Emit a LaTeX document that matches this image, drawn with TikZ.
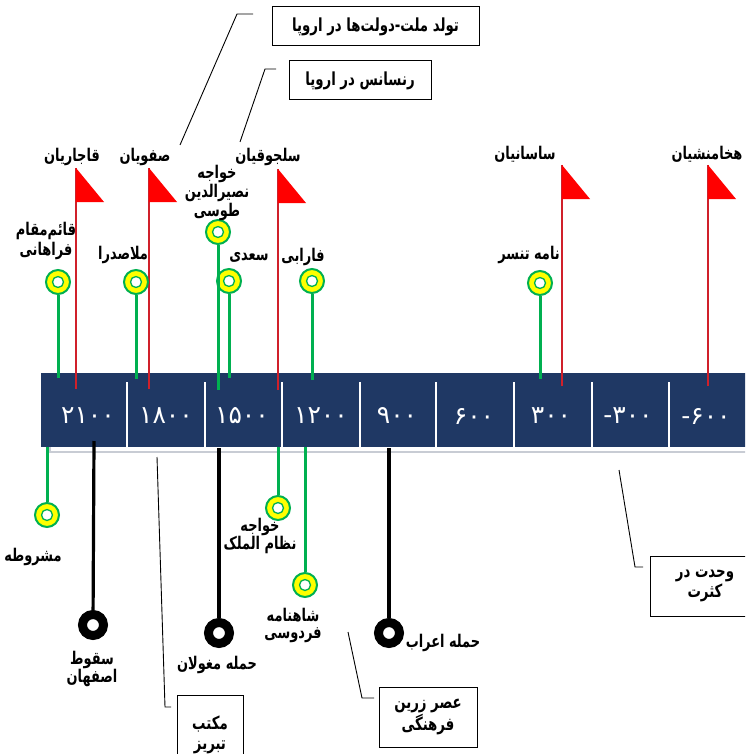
\documentclass[tikz,border=0pt]{standalone}
\usepackage{fontspec}
\newfontfamily\fa[Script=Arabic, FakeStretch=0.74]{DejaVu Sans}
\newfontfamily\fanum[Script=Arabic]{DejaVu Sans}
\TeXXeTstate=1
\usetikzlibrary{positioning}
\definecolor{bandblue}{HTML}{1F3864}
\definecolor{pingreen}{HTML}{00B050}
\definecolor{pinyellow}{HTML}{FFFF00}
\definecolor{polered}{HTML}{D0202A}
\definecolor{shadowgray}{HTML}{C8CCD4}
\newcommand{\rl}[1]{\beginR#1\endR}

\begin{document}
\begin{tikzpicture}[x=1pt,y=-1pt,semithick]
\tikzstyle{namelbl} = [font=\fa\bfseries\fontsize{17.5}{17}\selectfont, align=center, inner sep=0pt]
\tikzstyle{yearlbl} = [font=\fanum\fontsize{25}{28}\selectfont, text=white, inner sep=0pt]
\tikzstyle{greenring} = [circle, draw=pingreen, line width=2pt, fill=pinyellow, minimum size=24pt, inner sep=0pt,
  path picture={\draw[pingreen, line width=1.3pt, fill=white] (path picture bounding box.center) circle (5.5pt);}]
\tikzstyle{blackring} = [circle, draw=black, line width=9pt, fill=white, minimum size=21pt, inner sep=0pt]
\tikzstyle{stemline} = [pingreen, line width=3pt]
\tikzstyle{blackline} = [black, line width=3.2pt]
\tikzstyle{poleline} = [polered, line width=2.2pt]
\tikzstyle{flagtri} = [fill=red]
\tikzstyle{notebox} = [draw, line width=1pt, font=\fa\bfseries\fontsize{18}{19.5}\selectfont, align=center, inner sep=0pt]
\tikzstyle{leadline} = [black, line width=0.9pt]

\useasboundingbox (0,0) rectangle (745,754);
\clip (0,0) rectangle (745,754);

% time band
\fill[bandblue] (41,373) rectangle (760,447);
\draw[shadowgray, line width=1.5pt] (50,447) -- (50,452) -- (760,452);
\foreach \x in {127,205,282,360,436,514,592,669}
  \draw[white, line width=2pt] (\x,382) -- (\x,447);

\node[yearlbl] (y2100) at (88,416) {۲۱۰۰};
\node[yearlbl] (y1800) at (166,416) {۱۸۰۰};
\node[yearlbl] (y1500) at (242,416) {۱۵۰۰};
\node[yearlbl] (y1200) at (321,416) {۱۲۰۰};
\node[yearlbl] (y900) at (397,416) {۹۰۰};
\node[yearlbl] (y600) at (474,416) {۶۰۰};
\node[yearlbl] (y300) at (551,416) {۳۰۰};
\node[yearlbl] (ym300) at (628,416) {-\kern0pt۳۰۰};
\node[yearlbl] (ym600) at (706,416) {-\kern0pt۶۰۰};

% dynasties
\coordinate (qajarB) at (76,389);
\coordinate (qajarT) at (76,168);
\coordinate (safaviB) at (149,389);
\coordinate (safaviT) at (149,168);
\coordinate (saljuqB) at (278,390);
\coordinate (saljuqT) at (278,169);
\coordinate (sasaniB) at (562,386);
\coordinate (sasaniT) at (562,165);
\coordinate (hakhaB) at (708,386);
\coordinate (hakhaT) at (708,165);

\draw[poleline] (qajarB) -- (qajarT);
\draw[poleline] (safaviB) -- (safaviT);
\draw[poleline] (saljuqB) -- (saljuqT);
\draw[poleline] (sasaniB) -- (sasaniT);
\draw[poleline] (hakhaB) -- (hakhaT);
\fill[flagtri] (qajarT) -- ++(0,34) -- ++(28,0) -- cycle;
\fill[flagtri] (safaviT) -- ++(0,34) -- ++(28,0) -- cycle;
\fill[flagtri] (saljuqT) -- ++(0,34) -- ++(28,0) -- cycle;
\fill[flagtri] (sasaniT) -- ++(0,34) -- ++(28,0) -- cycle;
\fill[flagtri] (hakhaT) -- ++(0,34) -- ++(28,0) -- cycle;

\node[namelbl] (qajar) at (72,157) {\rl{قاجاریان}};
\node[namelbl] (safavi) at (145,157) {\rl{صفویان}};
\node[namelbl] (saljuq) at (268,157) {\rl{سلجوقیان}};
\node[namelbl] (sasani) at (525,154) {\rl{ساسانیان}};
\node[namelbl] (hakha) at (707,154) {\rl{هخامنشیان}};

% people and works above the band
\node[greenring] (qaem) at (58,282) {};
\node[greenring] (molla) at (136,282) {};
\node[greenring] (nasir) at (218,232) {};
\node[greenring] (saadi) at (229,281) {};
\node[greenring] (farabi) at (312,281) {};
\node[greenring] (tansar) at (540,283) {};

\coordinate (qaemB) at (58,378);
\coordinate (mollaB) at (136,379);
\coordinate (nasirB) at (218,390);
\coordinate (saadiB) at (229,378);
\coordinate (farabiB) at (312,380);
\coordinate (tansarB) at (540,379);

\draw[stemline] (qaemB) -- (qaem);
\draw[stemline] (mollaB) -- (molla);
\draw[stemline] (nasirB) -- (nasir);
\draw[stemline] (saadiB) -- (saadi);
\draw[stemline] (farabiB) -- (farabi);
\draw[stemline] (tansarB) -- (tansar);

\node[namelbl] (qaemL) at (46,241) {\rl{قائم‌مقام}\\[1.5pt]\rl{فراهانی}};
\node[namelbl] (mollaL) at (123,255) {\rl{ملاصدرا}};
\node[namelbl] (nasirL) at (217,193) {\rl{خواجه}\\\rl{نصیرالدین}\\\rl{طوسی}};
\node[namelbl] (saadiL) at (249,257) {\rl{سعدی}};
\node[namelbl] (farabiL) at (303,257) {\rl{فارابی}};
\node[namelbl] (tansarL) at (529,255) {\rl{نامه تنسر}};

% below the band
\node[greenring] (mashrute) at (47,515) {};
\node[greenring] (nezam) at (278,508) {};
\node[greenring] (ferdowsi) at (305,585) {};
\coordinate (mashruteT) at (47,447);
\coordinate (nezamT) at (278,447);
\coordinate (ferdowsiT) at (305,447);
\draw[stemline] (mashruteT) -- (mashrute);
\draw[stemline] (nezamT) -- (nezam);
\draw[stemline] (ferdowsiT) -- (ferdowsi);

\node[namelbl] (mashruteL) at (33,557) {\rl{مشروطه}};
\node[namelbl] (nezamL) at (260,536) {\rl{خواجه}\\\rl{نظام الملک}};
\node[namelbl] (ferdowsiL) at (293,625) {\rl{شاهنامه}\\\rl{فردوسی}};

\node[blackring] (esfahan) at (93,625) {};
\node[blackring] (mongol) at (219,633) {};
\node[blackring] (arab) at (389,633) {};
\coordinate (esfahanT) at (94,441);
\coordinate (mongolT) at (219,448);
\coordinate (arabT) at (389,448);
\draw[blackline] (esfahanT) -- (esfahan);
\draw[blackline] (mongolT) -- (mongol);
\draw[blackline] (arabT) -- (arab);

\node[namelbl] (esfahanL) at (92,669) {\rl{سقوط}\\\rl{اصفهان}};
\node[namelbl] (mongolL) at (217,665) {\rl{حمله مغولان}};
\node[namelbl] (arabL) at (443,643) {\rl{حمله اعراب}};

% notes
\node[notebox, minimum width=207pt, minimum height=39pt] (nation) at (375.5,26.5) {\rl{تولد ملت-دولت‌ها در اروپا}};
\node[notebox, minimum width=142pt, minimum height=39pt] (renaissance) at (360,80.5) {\rl{رنسانس در اروپا}};
\node[notebox, minimum width=66pt, minimum height=80pt] (tabriz) at (210,735) {\rl{مکتب}\\\rl{تبریز}};
\node[notebox, minimum width=98pt, minimum height=60pt] (golden) at (428,717) {\rl{عصر زرین}\\\rl{فرهنگی}};
\node[notebox, minimum width=110pt, minimum height=60pt] (vahdat) at (705,586) {\rl{وحدت در}\\\rl{کثرت}};

\coordinate (nationA) at (180,145);
\coordinate (nationB) at (237,14);
\coordinate (nationC) at (253,14);
\coordinate (renA) at (240,142);
\coordinate (renB) at (265,69);
\coordinate (renC) at (276,69);
\coordinate (tabrizA) at (157,457);
\coordinate (tabrizB) at (165,707);
\coordinate (tabrizC) at (171,707);
\coordinate (goldenA) at (348,632);
\coordinate (goldenB) at (362,698);
\coordinate (goldenC) at (374,698);
\coordinate (vahdatA) at (619,470);
\coordinate (vahdatB) at (635,567);
\coordinate (vahdatC) at (643,567);

\draw[leadline] (nationA) -- (nationB) -- (nationC);
\draw[leadline] (renA) -- (renB) -- (renC);
\draw[leadline] (tabrizA) -- (tabrizB) -- (tabrizC);
\draw[leadline] (goldenA) -- (goldenB) -- (goldenC);
\draw[leadline] (vahdatA) -- (vahdatB) -- (vahdatC);
\end{tikzpicture}
\end{document}
